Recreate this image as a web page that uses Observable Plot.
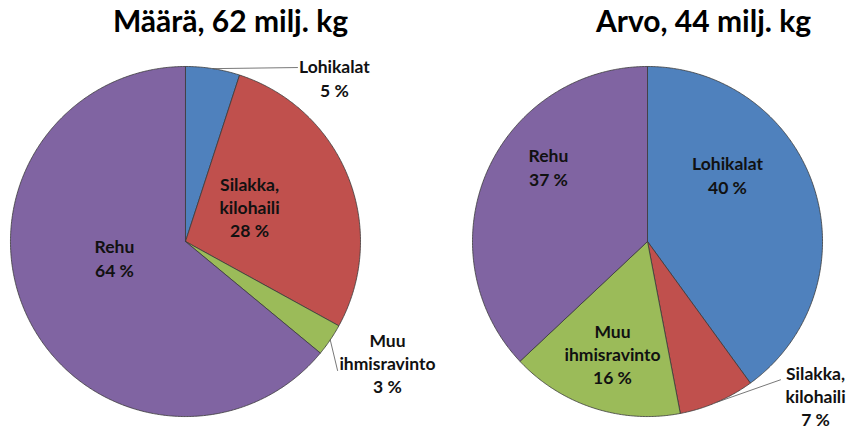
<!DOCTYPE html>
<html><head><meta charset="utf-8">
<script src="https://cdn.jsdelivr.net/npm/d3@7"></script>
<script src="https://cdn.jsdelivr.net/npm/@observablehq/plot@0.6"></script>
<style>body{margin:0;background:#fff}</style>
</head><body><div id="chart"></div>
<script>
// ---- data ----
const categories = ["Lohikalat", "Silakka, kilohaili", "Muu ihmisravinto", "Rehu"];
const maaraValues = [5, 28, 3, 64];
const arvoValues = [40, 7, 16, 37];
const pieTitles = ["Määrä, 62 milj. kg", "Arvo, 44 milj. kg"];
const labelLines = [["Lohikalat"], ["Silakka,", "kilohaili"], ["Muu", "ihmisravinto"], ["Rehu"]];

// ---- style / layout ----
const colors = ["#4F81BD", "#C0504D", "#9BBB59", "#8064A2"];
const font = "Lato, 'Open Sans', sans-serif";
const pies = [
  {title: pieTitles[0], values: maaraValues, cx: 0, titlePos: [0.257, 1.251],
   labelPos: [[0.851, 0.937], [0.366, 0.2], [1.154, -0.691], [-0.406, -0.091]],
   leaderEnd: [[0.64, 0.994], null, [0.869, -0.737], null]},
  {title: pieTitles[1], values: arvoValues, cx: 2.64, titlePos: [0.32, 1.251],
   labelPos: [[0.457, 0.383], [0.96, -0.88], [-0.2, -0.64], [-0.566, 0.429]],
   leaderEnd: [null, [0.76, -0.79], null, null]}
];

const slicePts = [], leaderPts = [], labels = [], titles = [];
pies.forEach((p, pi) => {
  const total = d3.sum(p.values);
  let cum = 0;
  p.values.forEach((v, i) => {
    const a0 = cum / total * 2 * Math.PI;
    cum += v;
    const a1 = cum / total * 2 * Math.PI;
    const key = pi + "-" + i;
    const n = Math.max(2, Math.ceil((a1 - a0) / (Math.PI / 360)));
    slicePts.push({key, cat: categories[i], x: p.cx, y: 0});
    for (let k = 0; k <= n; k++) {
      const a = a0 + (a1 - a0) * k / n;
      slicePts.push({key, cat: categories[i], x: p.cx + Math.sin(a), y: Math.cos(a)});
    }
    slicePts.push({key, cat: categories[i], x: p.cx, y: 0});
    const am = (a0 + a1) / 2;
    if (p.leaderEnd[i]) {
      leaderPts.push({key, x: p.cx + Math.sin(am), y: Math.cos(am)});
      leaderPts.push({key, x: p.cx + p.leaderEnd[i][0], y: p.leaderEnd[i][1]});
    }
    labels.push({x: p.cx + p.labelPos[i][0], y: p.labelPos[i][1],
      text: labelLines[i].join("\n") + "\n" + v + " %"});
  });
  titles.push({x: p.cx + p.titlePos[0], y: p.titlePos[1], text: p.title});
});

const chart = Plot.plot({
  width: 846, height: 436, margin: 0,
  style: {fontFamily: font, background: "#fff"},
  x: {domain: [-1.057, 3.777], axis: null},
  y: {domain: [-1.114, 1.377], axis: null},
  color: {domain: categories, range: colors},
  marks: [
    Plot.line(slicePts, {x: "x", y: "y", z: "key", fill: "cat", stroke: "#3a3a3a", strokeWidth: 0.8, curve: "linear"}),
    Plot.line(leaderPts, {x: "x", y: "y", z: "key", stroke: "#555", strokeWidth: 0.8}),
    Plot.text(labels, {x: "x", y: "y", text: "text", lineAnchor: "middle", fontWeight: "bold", fontSize: 17.5, lineHeight: 1.33, fill: "#111"}),
    Plot.text(titles, {x: "x", y: "y", text: "text", lineAnchor: "middle", fontWeight: "bold", fontSize: 30, fill: "#000"})
  ]
});
document.getElementById("chart").appendChild(chart);
</script>
</body></html>
